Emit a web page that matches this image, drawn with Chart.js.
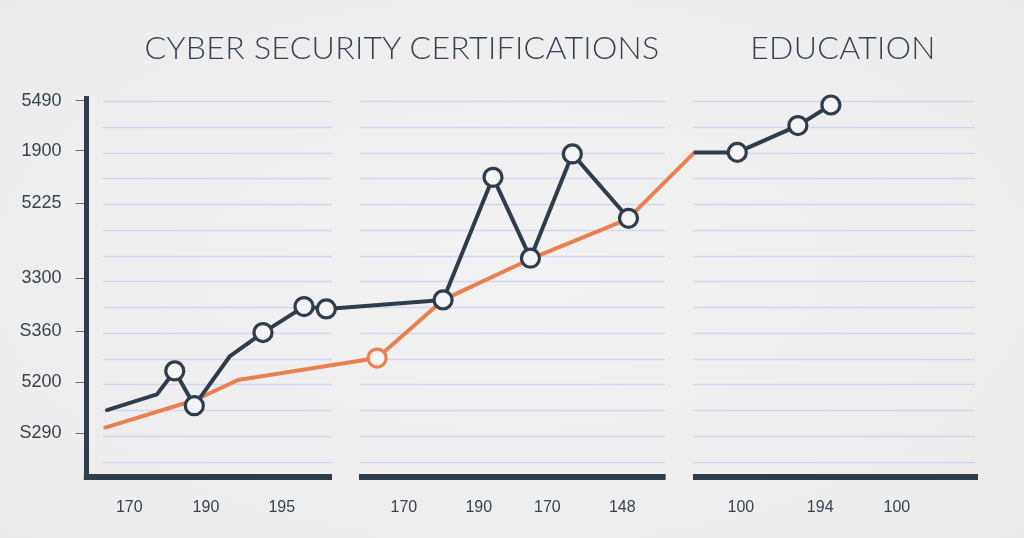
<!DOCTYPE html>
<html>
<head>
<meta charset="utf-8">
<script src="https://cdn.jsdelivr.net/npm/chart.js@4"></script>
<style>
    html, body { margin: 0; padding: 0; }
    body { background: radial-gradient(ellipse at center, #f2f2f2 0%, #eeeeee 70%, #ebebeb 100%); }
    #wrap { position: relative; width: 1024px; height: 538px; overflow: hidden; }
    #chartCanvas { position: absolute; left: 0; top: 0; }
    .titulo {
        position: absolute; top: 27px; line-height: 40px;
        font-family: Lato, "Open Sans", sans-serif; font-size: 32px; font-weight: 300;
        letter-spacing: 0.3px;
        color: #36424f; white-space: nowrap; transform: translateX(-50%);
    }
</style>
</head>
<body>
<div id="wrap">
    <canvas id="chartCanvas" width="1024" height="538"></canvas>
    <div class="titulo" style="left:402px">CYBER SECURITY CERTIFICATIONS</div>
    <div class="titulo" style="left:843px">EDUCATION</div>
</div>
<script>
// Etiquetas del eje X (posición en la línea de tiempo, 0-100)
const etiquetasX = ['170', '190', '195', '170', '190', '170', '148', '100', '194', '100'];
const posicionesX = [4.8, 13.4, 21.9, 35.6, 44.0, 51.7, 60.1, 73.4, 82.3, 90.9];

// Etiquetas del eje Y
const etiquetasY = ['5490', '1900', '5225', '3300', 'S360', '5200', 'S290'];
const valoresY = [15.01, 13.07, 11.04, 8.11, 6.07, 4.07, 2.09];

// Serie oscura (certificaciones), null = corte de la línea
const certX = [2.3, 7.9, 9.9, 12.1, 16.1, 19.8, 24.4, 26.9, 40.0, 45.6, 49.8, 54.5, 60.8, 64.0, 68.3, 73.0, 79.8, 83.5];
const certY = [3.00, 3.61, 4.52, 3.17, 5.10, 6.01, 7.02, 6.93, 7.28, 12.04, 8.90, 12.95, 10.45, null, 13.01, 13.01, 14.05, 14.85];
const certHitos = [0, 0, 1, 1, 0, 1, 1, 1, 1, 1, 1, 1, 1, 0, 0, 1, 1, 1];

// Serie naranja (educación)
const eduX = [2.1, 12.2, 17.0, 32.6, 40.0, 49.8, 60.7, 68.2];
const eduY = [2.32, 3.39, 4.17, 5.02, 7.28, 8.87, 10.42, 13.01];
const eduHitos = [0, 0, 0, 1, 0, 0, 0, 0];

// Paneles: tramo de la cuadrícula y de la barra inferior (unidades del eje X)
const paneles = [
    { grid: [1.85, 27.54], barra: [-0.3, 27.54] },
    { grid: [30.68, 64.89], barra: [30.57, 64.96] },
    { grid: [68.03, 99.66], barra: [68.03, 100] }
];

const colorOscuro = '#2f3d4a';
const colorNaranja = '#e8804f';

// Dibuja la cuadrícula por paneles y los ejes
const pluginPaneles = {
    id: 'paneles',
    beforeDatasetsDraw(chart) {
        const { ctx, chartArea, scales } = chart;
        const sx = scales.x, sy = scales.y;
        ctx.save();
        ctx.strokeStyle = '#d6d6f1';
        ctx.lineWidth = 1.3;
        for (let v = 1; v <= 15; v++) {
            const py = Math.round(sy.getPixelForValue(v)) + 0.5;
            paneles.forEach(p => {
                ctx.beginPath();
                ctx.moveTo(sx.getPixelForValue(p.grid[0]), py);
                ctx.lineTo(sx.getPixelForValue(p.grid[1]), py);
                ctx.stroke();
            });
        }
        ctx.fillStyle = colorOscuro;
        paneles.forEach(p => {
            const x1 = sx.getPixelForValue(p.barra[0]);
            const x2 = sx.getPixelForValue(p.barra[1]);
            ctx.fillRect(x1, chartArea.bottom - 3, x2 - x1, 6);
        });
        ctx.fillRect(chartArea.left - 2.5, chartArea.top, 5, chartArea.bottom + 3 - chartArea.top);
        ctx.restore();
    }
};

const ctx = document.getElementById('chartCanvas').getContext('2d');
const chart = new Chart(ctx, {
    type: 'line',
    data: {
        datasets: [{
            label: 'Certificaciones',
            data: certX.map((x, i) => ({ x: x, y: certY[i] })),
            borderColor: colorOscuro,
            borderWidth: 4,
            pointRadius: certHitos.map(h => h ? 9 : 0),
            pointBackgroundColor: '#f4f4f4',
            pointBorderColor: colorOscuro,
            pointBorderWidth: 3.2,
            borderJoinStyle: 'round',
            borderCapStyle: 'round',
            tension: 0,
            spanGaps: false,
            clip: false,
            order: 1
        }, {
            label: 'Educación',
            data: eduX.map((x, i) => ({ x: x, y: eduY[i] })),
            borderColor: colorNaranja,
            borderWidth: 4,
            pointRadius: eduHitos.map(h => h ? 9 : 0),
            pointBackgroundColor: '#f4f4f4',
            pointBorderColor: colorNaranja,
            pointBorderWidth: 3.2,
            borderJoinStyle: 'round',
            borderCapStyle: 'round',
            tension: 0,
            clip: false,
            order: 2
        }]
    },
    options: {
        responsive: false,
        animation: false,
        devicePixelRatio: 1,
        layout: { padding: { top: 96, left: 0, right: 46, bottom: 0 } },
        plugins: { legend: { display: false }, tooltip: { enabled: false } },
        scales: {
            x: {
                type: 'linear',
                min: 0,
                max: 100,
                afterBuildTicks: s => { s.ticks = posicionesX.map(v => ({ value: v })); },
                afterFit: s => { s.height = 61; },
                border: { display: false },
                grid: { display: false, drawTicks: false },
                ticks: {
                    callback: (v, i) => etiquetasX[i],
                    autoSkip: false,
                    maxRotation: 0,
                    padding: 21,
                    color: '#38424d',
                    font: { family: 'Liberation Sans', size: 16 }
                }
            },
            y: {
                min: 0.4,
                max: 15.2,
                afterBuildTicks: s => { s.ticks = valoresY.map(v => ({ value: v })); },
                afterFit: s => { s.width = 86.5; },
                border: { display: false },
                grid: { drawOnChartArea: false, tickLength: 11, color: '#69737c', lineWidth: 1 },
                ticks: {
                    callback: (v, i) => etiquetasY[i],
                    autoSkip: false,
                    padding: 14,
                    color: '#38424d',
                    font: { family: 'Liberation Sans', size: 18 }
                }
            }
        }
    },
    plugins: [pluginPaneles]
});
</script>
</body>
</html>
